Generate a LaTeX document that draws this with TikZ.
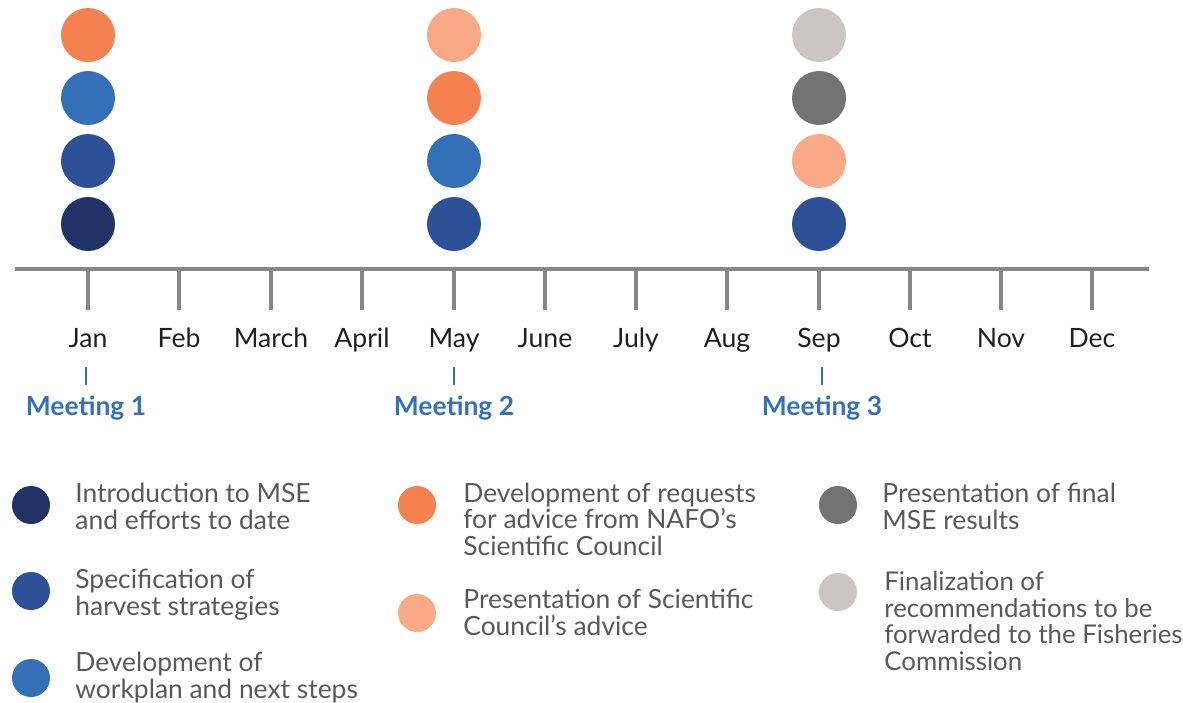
\documentclass[tikz,border=0pt]{standalone}
\usepackage{fontspec}
\setmainfont{Lato}
\usepackage{xcolor}
\usepackage{tikz}
\usetikzlibrary{positioning}

\definecolor{mseNavy}{HTML}{213366}
\definecolor{mseBlue}{HTML}{2C5196}
\definecolor{mseSky}{HTML}{3370B7}
\definecolor{mseOrange}{HTML}{F58050}
\definecolor{msePeach}{HTML}{F8AA87}
\definecolor{mseGrey}{HTML}{737373}
\definecolor{mseSilver}{HTML}{C9C6C5}
\definecolor{axisGrey}{HTML}{878787}
\definecolor{monthText}{HTML}{231F20}
\definecolor{keyText}{HTML}{595959}

\begin{document}
\begin{tikzpicture}[x=0.5pt,y=-0.5pt,
dot/.style={circle,fill=#1,minimum size=27pt,inner sep=0pt,outer sep=0pt},
keydot/.style={circle,fill=#1,minimum size=19pt,inner sep=0pt},
month/.style={anchor=base,text=monthText,inner sep=0pt,font=\fontsize{13.3}{15}\selectfont},
meet/.style={anchor=base,text=mseSky,inner sep=0pt,font=\bfseries\fontsize{13.2}{15}\selectfont},
monthtick/.style={draw=axisGrey,line width=2pt},
meettick/.style={draw=mseSky,line width=1.2pt},
% multi-line texts sit on the baseline of their last line
keytext/.style={anchor=base west,align=left,text=keyText,inner sep=0pt,
    font=\fontsize{13.2}{13.2}\selectfont}]
\useasboundingbox (0,0) rectangle (1183,702);

% axis
\coordinate (axl) at (15,269);
\coordinate (axr) at (1149,269);
\draw[monthtick] (axl) -- (axr);

% months
\node (jan) [month] at (88,347) {Jan};
\node (feb) [month] at (179,347) {Feb};
\node (mar) [month] at (271,347) {March};
\node (apr) [month] at (362,347) {April};
\node (may) [month] at (454,347) {May};
\node (jun) [month] at (545,347) {June};
\node (jul) [month] at (636,347) {July};
\node (aug) [month] at (727,347) {Aug};
\node (sep) [month] at (819,347) {Sep};
\node (oct) [month] at (910,347) {Oct};
\node (nov) [month] at (1001,347) {Nov};
\node (dec) [month] at (1092,347) {Dec};
\foreach \m in {jan,feb,mar,apr,may,jun,jul,aug,sep,oct,nov,dec}
  \draw[monthtick] (\m |- axl) -- ++(0,41);

% activity dots
\node (janA) [dot=mseNavy] at (88,224) {};
\node (janB) [dot=mseBlue,above=4.5pt of janA] {};
\node (janC) [dot=mseSky,above=4.5pt of janB] {};
\node (janD) [dot=mseOrange,above=4.5pt of janC] {};
\node (mayA) [dot=mseBlue] at (454,224) {};
\node (mayB) [dot=mseSky,above=4.5pt of mayA] {};
\node (mayC) [dot=mseOrange,above=4.5pt of mayB] {};
\node (mayD) [dot=msePeach,above=4.5pt of mayC] {};
\node (sepA) [dot=mseBlue] at (819,224) {};
\node (sepB) [dot=msePeach,above=4.5pt of sepA] {};
\node (sepC) [dot=mseGrey,above=4.5pt of sepB] {};
\node (sepD) [dot=mseSilver,above=4.5pt of sepC] {};

% meetings
\node (meet1) [meet] at (86,415) {Meeting 1};
\node (meet2) [meet] at (454,415) {Meeting 2};
\node (meet3) [meet] at (822,415) {Meeting 3};
\draw[meettick] (86,367) -- (86,385);
\draw[meettick] (454,367) -- (454,385);
\draw[meettick] (822,367) -- (822,385);

% legend
\node (key1) [keydot=mseNavy] at (31,505) {};
\node (key2) [keydot=mseBlue] at (31,591) {};
\node (key3) [keydot=mseSky] at (31,678) {};
\node (key4) [keydot=mseOrange] at (417,505) {};
\node (key5) [keydot=msePeach] at (417,613) {};
\node (key6) [keydot=mseGrey] at (838,505) {};
\node (key7) [keydot=mseSilver] at (838,592) {};
\node (txt1) [keytext] at (75,529) {Introduction to MSE\\and efforts to date};
\node (txt2) [keytext] at (75,615) {Specification of\\harvest strategies};
\node (txt3) [keytext] at (75,698) {Development of\\workplan and next steps};
\node (txt4) [keytext] at (463,555) {Development of requests\\for advice from NAFO’s\\Scientific Council};
\node (txt5) [keytext] at (463,635) {Presentation of Scientific\\Council’s advice};
\node (txt6) [keytext] at (882,529) {Presentation of final\\MSE results};
\node (txt7) [keytext,font=\fontsize{12.9}{13.2}\selectfont] at (884,670) {Finalization of\\recommendations to be\\forwarded to the Fisheries\\Commission};
\end{tikzpicture}
\end{document}
